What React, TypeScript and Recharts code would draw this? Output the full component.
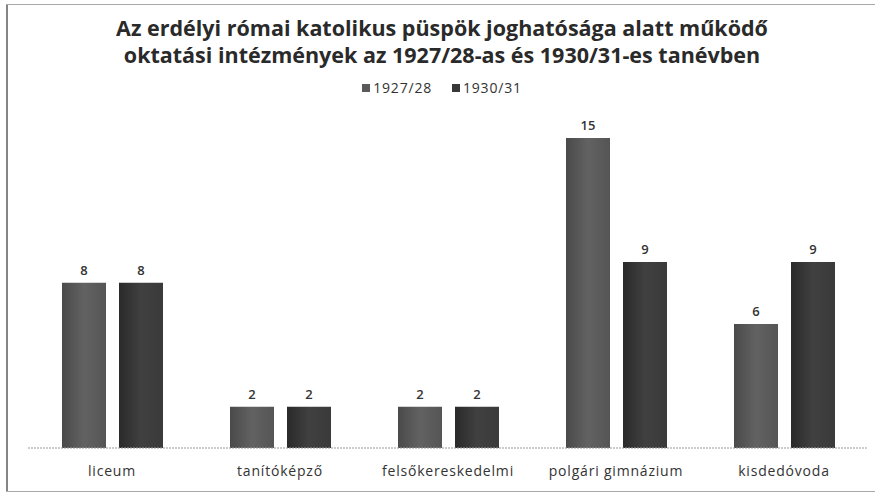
import { Bar, BarChart, LabelList, XAxis, YAxis } from "recharts";

const categories = ["liceum", "tanítóképző", "felsőkereskedelmi", "polgári gimnázium", "kisdedóvoda"];
const year1927 = [8, 2, 2, 15, 6];
const year1930 = [8, 2, 2, 9, 9];

const data = categories.map((name, i) => ({
  name,
  "1927/28": year1927[i],
  "1930/31": year1930[i],
}));

const font = "'Open Sans', 'DejaVu Sans', sans-serif";

const legendItems = [
  { label: "1927/28", color: "#5a5a5a" },
  { label: "1930/31", color: "#383838" },
];

export default function App() {
  return (
    <div style={{ position: "relative", width: 875, height: 494, background: "#fff", overflow: "hidden" }}>
      <style>{"body{margin:0}"}</style>
      <BarChart
        width={875}
        height={494}
        data={data}
        margin={{ top: 138, right: 7, left: 28, bottom: 14 }}
        barGap={13}
        barSize={44}
      >
        <defs>
          <linearGradient id="g1" x1="0" y1="0" x2="1" y2="0">
            <stop offset="0%" stopColor="#4a4a4a" />
            <stop offset="50%" stopColor="#626262" />
            <stop offset="100%" stopColor="#555" />
          </linearGradient>
          <linearGradient id="g2" x1="0" y1="0" x2="1" y2="0">
            <stop offset="0%" stopColor="#2a2a2a" />
            <stop offset="50%" stopColor="#404040" />
            <stop offset="100%" stopColor="#3a3a3a" />
          </linearGradient>
        </defs>
        <XAxis
          dataKey="name"
          height={32}
          axisLine={{ stroke: "#999", strokeDasharray: "2 1" }}
          tickLine={false}
          tick={{ fill: "#333", fontFamily: font, fontSize: 14, letterSpacing: 0.8 }}
          tickMargin={12}
          interval={0}
        />
        <YAxis hide domain={[0, 15]} />
        <Bar dataKey="1927/28" fill="url(#g1)" isAnimationActive={false}>
          <LabelList dataKey="1927/28" position="top" offset={8} fill="#333" fontFamily={font} fontSize={13} fontWeight={600} />
        </Bar>
        <Bar dataKey="1930/31" fill="url(#g2)" isAnimationActive={false}>
          <LabelList dataKey="1930/31" position="top" offset={8} fill="#333" fontFamily={font} fontSize={13} fontWeight={600} />
        </Bar>
      </BarChart>
      {/* outer frame of the scanned chart */}
      <div style={{ position: "absolute", left: 6, top: 4, width: 2, height: 488, background: "#858585", zIndex: 3 }} />
      <div style={{ position: "absolute", left: 6, top: 4, width: 869, height: 1, background: "#a8a8a8", zIndex: 3 }} />
      <div style={{ position: "absolute", left: 6, top: 491, width: 869, height: 1, background: "#a8a8a8", zIndex: 3 }} />
      <div
        style={{
          position: "absolute",
          left: 0,
          top: 14,
          width: 884,
          textAlign: "center",
          fontFamily: font,
          fontWeight: 700,
          fontSize: 21.5,
          lineHeight: "27px",
          color: "#2a2a2a",
          zIndex: 2,
        }}
      >
        Az erdélyi római katolikus püspök joghatósága alatt működő
        <br />
        oktatási intézmények az 1927/28-as és 1930/31-es tanévben
      </div>
      <div
        style={{
          position: "absolute",
          left: 0,
          top: 78,
          width: 884,
          display: "flex",
          justifyContent: "center",
          gap: 20,
          fontFamily: font,
          fontSize: 14,
          letterSpacing: 0.8,
          color: "#333",
          zIndex: 2,
        }}
      >
        {legendItems.map((item) => (
          <span key={item.label} style={{ display: "flex", alignItems: "center", gap: 3 }}>
            <span style={{ width: 8, height: 8, background: item.color, display: "inline-block" }} />
            {item.label}
          </span>
        ))}
      </div>
    </div>
  );
}
